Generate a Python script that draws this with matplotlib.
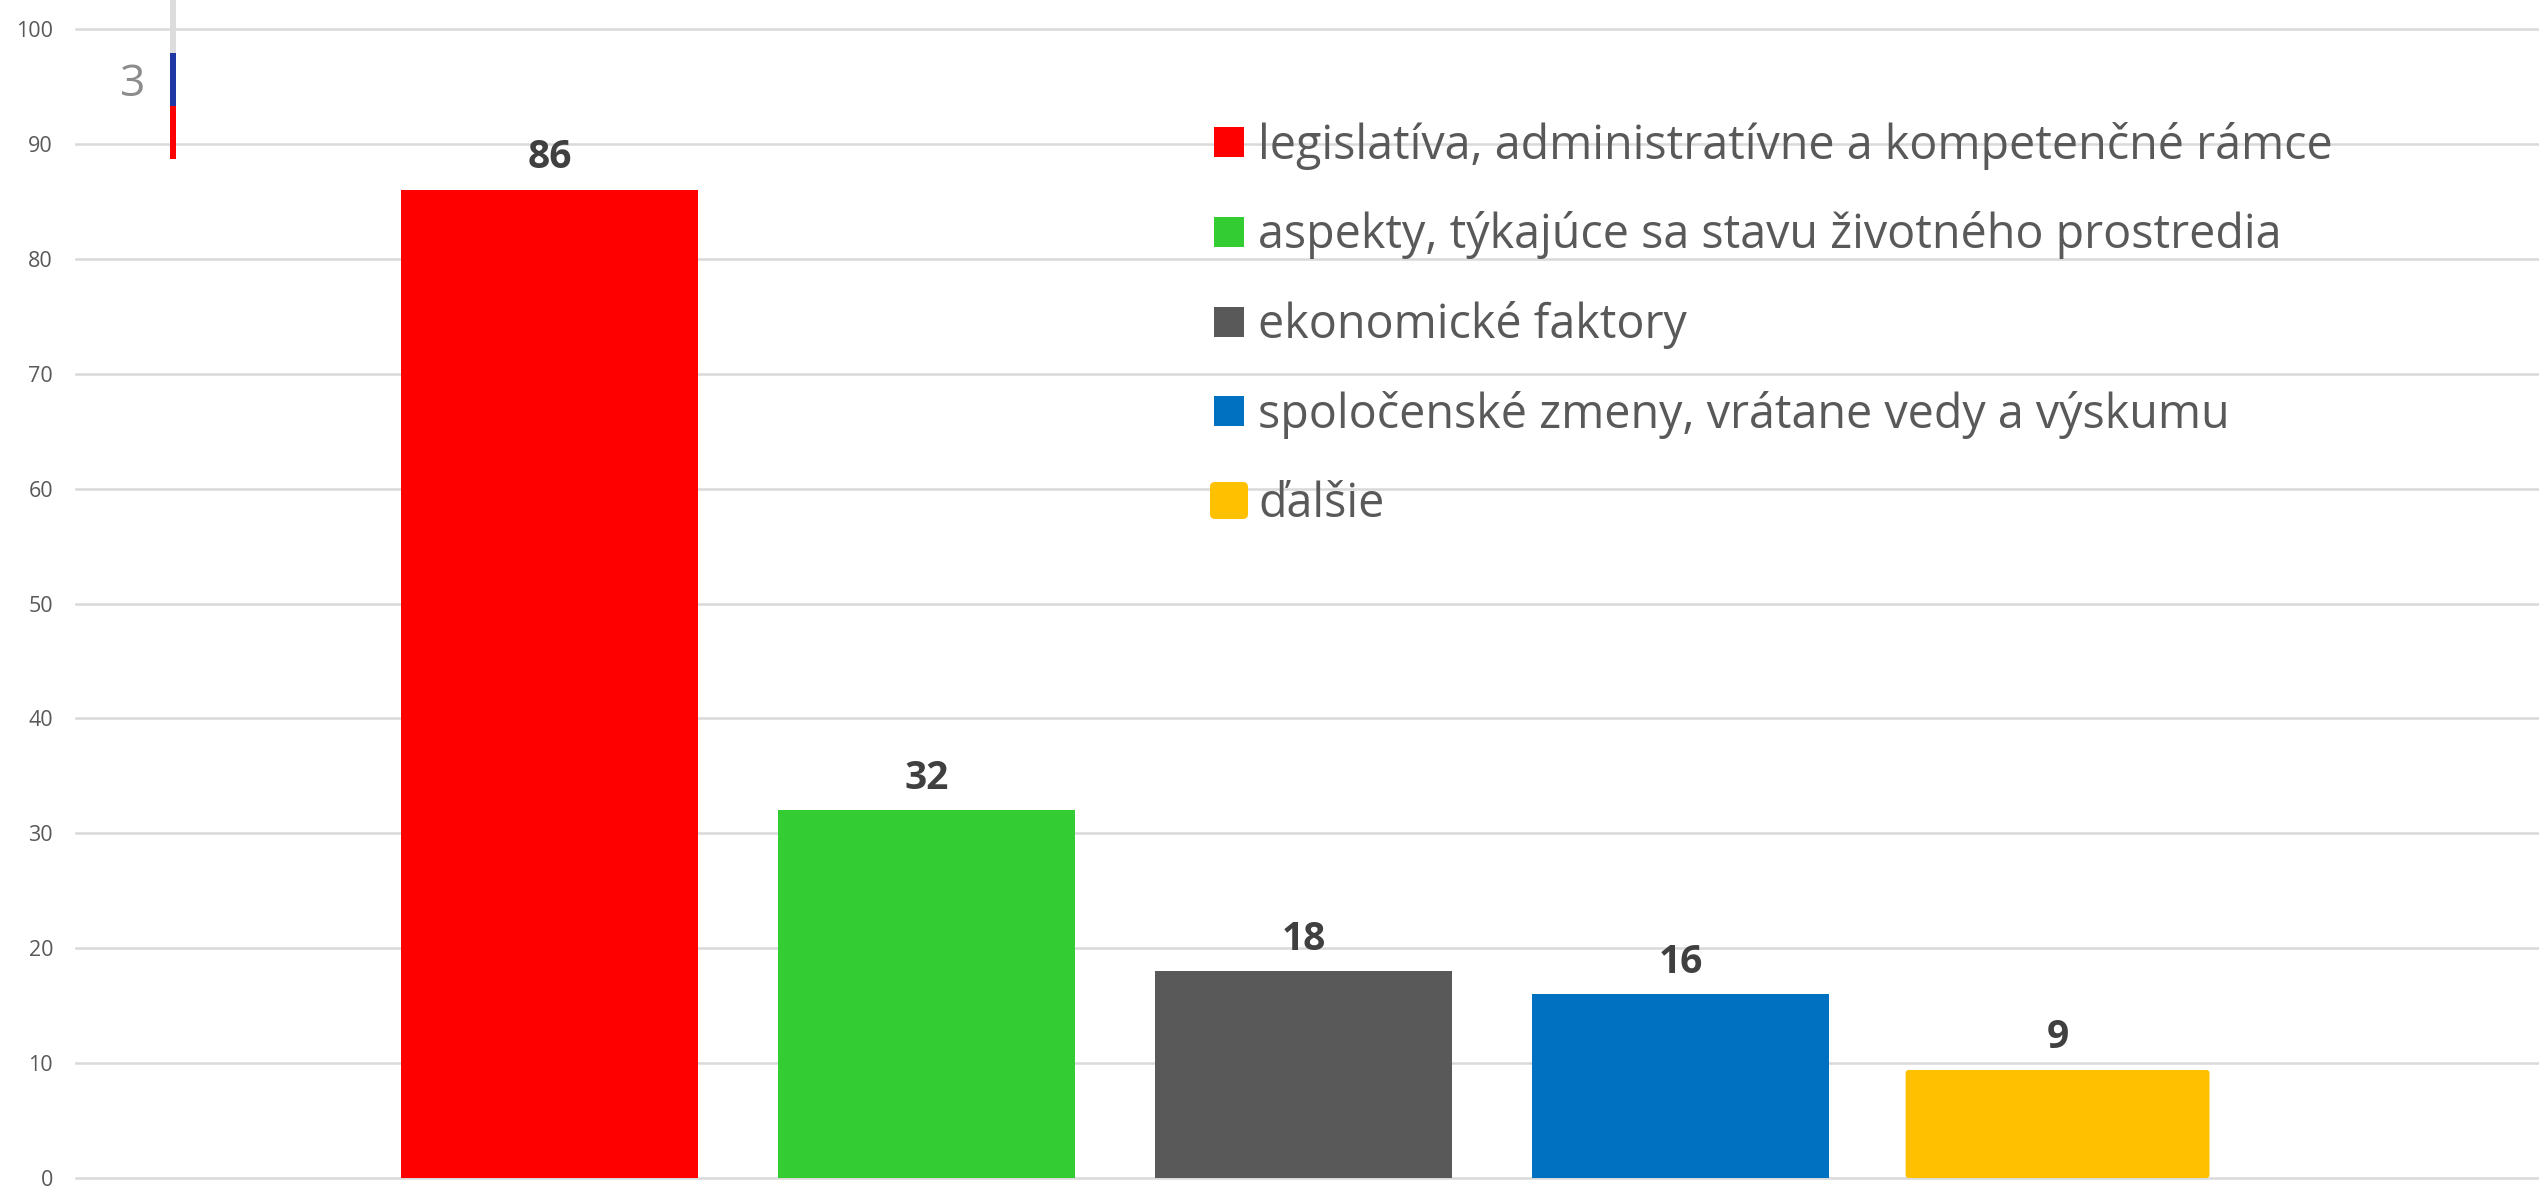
from matplotlib import pyplot as plt
from matplotlib.patches import FancyBboxPatch, Rectangle

# Chart values
categories = ['legislatíva, administratívne a kompetenčné rámce',
              'aspekty, týkajúce sa stavu životného prostredia',
              'ekonomické faktory',
              'spoločenské zmeny, vrátane vedy a výskumu',
              'ďalšie']
values = [86, 32, 18, 16, 9.4]
value_labels = ['86', '32', '18', '16', '9']
colors = ['#ff0000', '#33cc33', '#595959', '#0070c0', '#ffc000']
y_ticks = [0, 10, 20, 30, 40, 50, 60, 70, 80, 90, 100]
stripe_colors = ['#dcdcdc', '#1f37a5', '#ff0000']

W, H = 2539, 1188
TEXT = '#595959'

fig = plt.figure(figsize=(W / 100, H / 100), dpi=100, facecolor='white')
ax = fig.add_axes([76 / W, 1 - 1178 / H, (W - 76) / W, (1178 - 29) / H])
ax.set_xlim(-1.256, 5.277)
ax.set_ylim(0, 100)
ax.set_yticks(y_ticks)
ax.set_xticks([])
ax.tick_params(axis='y', length=0, pad=16.5, labelsize=15.5, labelcolor=TEXT)
for lab in ax.get_yticklabels():
	lab.set_fontfamily('Open Sans')
ax.grid(axis='y', color='#d9d9d9', linewidth=1.8)
for gl in ax.get_ygridlines():
	gl.set_clip_on(False)
ax.set_axisbelow(True)
for s in ax.spines.values():
	s.set_visible(False)

# Bars, the last one has rounded corners
for i in range(len(values)):
	if i < len(values) - 1:
		ax.bar(i, values[i], width=0.79, color=colors[i])
	else:
		r = 0.008
		aspect = (ax.get_ylim()[1] / 1149) / (1 / 377)
		ax.add_patch(FancyBboxPatch((i - 0.403 + r, r * aspect), 0.806 - 2 * r, values[i] - 2 * r * aspect,
			boxstyle='round,pad=%f,rounding_size=%f' % (r, r), mutation_aspect=aspect,
			facecolor=colors[i], edgecolor='none', clip_on=False))
	ax.annotate(value_labels[i], (i, values[i]), xytext=(0, 9), textcoords='offset points', ha='center', va='bottom',
		fontsize=28, fontweight='bold', color='#404040', family='Open Sans')


def px_rect(x0, y0, x1, y1, color, **kw):
	# pixel box from the top left corner of the image
	if kw:
		p = FancyBboxPatch((x0, H - y1), x1 - x0, y1 - y0, transform=None, facecolor=color, edgecolor='none', **kw)
	else:
		p = Rectangle((x0, H - y1), x1 - x0, y1 - y0, transform=None, facecolor=color, edgecolor='none')
	fig.add_artist(p)


# Page mark in the top left corner
for i in range(len(stripe_colors)):
	px_rect(170, 53 * i, 176, 53 * (i + 1), stripe_colors[i])
fig.text(133 / W, 1 - 85 / H, '3', fontsize=32, color='#8c8c8c', family='Open Sans', ha='center', va='center')

# Legend
for i in range(len(categories)):
	yc = 142 + 89.8 * i
	if i < 4:
		px_rect(1214, yc - 15, 1244, yc + 15, colors[i])
	else:
		px_rect(1214, 486, 1244, 515, colors[i], boxstyle='round,pad=4,rounding_size=5')
	fig.text(1258 / W, 1 - (yc - 2) / H, categories[i], fontsize=33.6, color=TEXT, family='Open Sans', ha='left', va='center_baseline')

fig.savefig('out.png', dpi=100)
